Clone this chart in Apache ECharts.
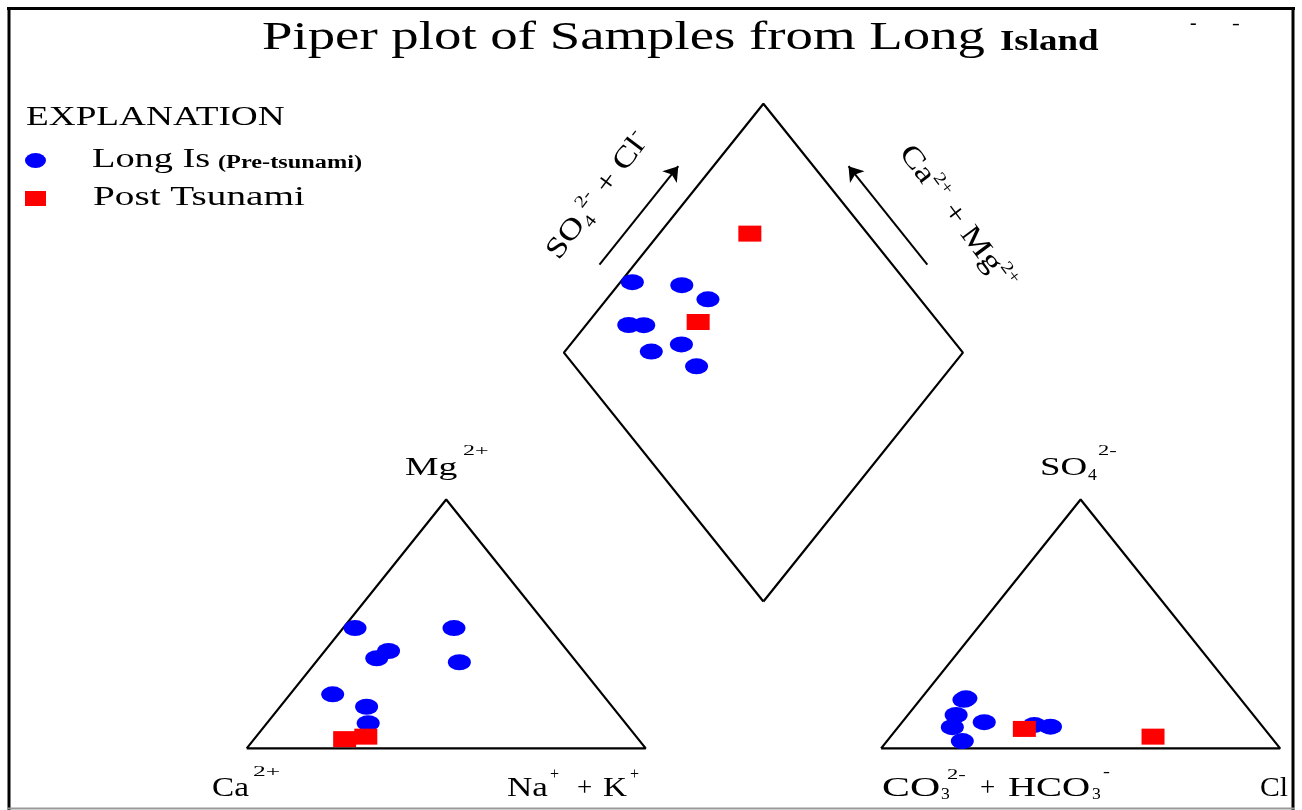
<!DOCTYPE html>
<html>
<head>
<meta charset="utf-8">
<script src="https://cdn.jsdelivr.net/npm/echarts@6.0.0/dist/echarts.min.js"></script>
<style>html,body{margin:0;padding:0;background:#fff}#chart{width:1302px;height:810px}</style>
</head>
<body>
<div id="chart"></div>
<script>
// ---------------- data (percent of meq/L) ----------------
const seriesNames = ['Long Is (Pre-tsunami)', 'Post Tsunami'];

// Pre-tsunami samples (Long Island)
const preCa   = [48.7, 44.9, 64.5, 67.6, 49.3, 61.6, 23.9, 29.4];
const preMg   = [48.3, 39.1, 10.1, 21.7, 36.2, 16.7, 48.3, 34.6];
const preNaK  = [ 3.0, 16.0, 25.4, 10.7, 14.5, 21.7, 27.8, 36.0];
const preHCO3 = [68.7, 56.9, 53.2, 78.2, 74.5, 77.9, 68.9, 69.5];
const preSO4  = [20.1,  9.4,  8.7,  2.9, 13.4,  8.5, 10.5, 19.5];
const preCl   = [11.2, 33.7, 38.1, 18.9, 12.1, 13.6, 20.6, 11.0];

// Post-tsunami samples
const postCa   = [73.6, 67.8];
const postMg   = [ 3.7,  4.7];
const postNaK  = [22.7, 27.5];
const postHCO3 = [29.5, 60.2];
const postSO4  = [ 4.7,  7.8];
const postCl   = [65.8, 32.0];

// ---------------- Piper geometry (diagram units: triangle side = 1) ----------------
const GAP = 0.59;                 // gap between the two triangles
const H = Math.sqrt(3) / 2;       // triangle height
const Y0 = GAP * H;               // height of diamond's lower vertex
const XC = 1 + GAP / 2;           // diamond centre x

function cationXY(ca, mg, nak) {
  const t = ca + mg + nak, m = mg / t, n = nak / t;
  return [n + m / 2, m * H];
}
function anionXY(hco3, so4, cl) {
  const t = hco3 + so4 + cl, s = so4 / t, l = cl / t;
  return [1 + GAP + l + s / 2, s * H];
}
function diamondXY(ca, mg, nak, hco3, so4, cl) {
  const p = (ca + mg) / (ca + mg + nak);
  const q = (so4 + cl) / (hco3 + so4 + cl);
  return [XC + 0.5 * (q - p), Y0 + H * (p + q)];
}
function buildPoints(ca, mg, nak, hco3, so4, cl) {
  const pts = [];
  for (let i = 0; i < ca.length; i++) {
    pts.push(cationXY(ca[i], mg[i], nak[i]));
    pts.push(anionXY(hco3[i], so4[i], cl[i]));
    pts.push(diamondXY(ca[i], mg[i], nak[i], hco3[i], so4[i], cl[i]));
  }
  return pts;
}
const prePoints = buildPoints(preCa, preMg, preNaK, preHCO3, preSO4, preCl);
const postPoints = buildPoints(postCa, postMg, postNaK, postHCO3, postSO4, postCl);

const leftTri = [[0, 0], [1, 0], [0.5, H], [0, 0]];
const rightTri = [[1 + GAP, 0], [2 + GAP, 0], [1.5 + GAP, H], [1 + GAP, 0]];
const diamond = [[XC, Y0], [XC + 0.5, Y0 + H], [XC, Y0 + 2 * H], [XC - 0.5, Y0 + H], [XC, Y0]];

// arrows parallel to the diamond's upper edges
const A_T1 = 0.31, A_T2 = 0.705, A_OFF = 0.076;
function edgePoint(base, dir, nrm, t) {
  return [base[0] + dir[0] * t + nrm[0] * A_OFF, base[1] + dir[1] * t + nrm[1] * A_OFF];
}
const Lv = [XC - 0.5, Y0 + H], Rv = [XC + 0.5, Y0 + H];
const arrows = [
  { coords: [edgePoint(Lv, [0.5, H], [-H, 0.5], A_T1), edgePoint(Lv, [0.5, H], [-H, 0.5], A_T2)] },
  { coords: [edgePoint(Rv, [-0.5, H], [H, 0.5], A_T1), edgePoint(Rv, [-0.5, H], [H, 0.5], A_T2)] }
];

// ---------------- text helpers ----------------
const FONT = 'Liberation Serif';
function txt(s, x, baseY, fs, sx, weight) {
  return { type: 'text', x: x, y: baseY - 0.34 * fs, scaleX: sx || 1, silent: true, z: 10,
    style: { text: s, fontFamily: FONT, fontSize: fs, fontWeight: weight || 'normal', fill: '#000',
      textAlign: 'left', textVerticalAlign: 'middle' } };
}
function mid(s, x, cy, fs, sx, weight) {
  return { type: 'text', x: x, y: cy, scaleX: sx || 1, silent: true, z: 10,
    style: { text: s, fontFamily: FONT, fontSize: fs, fontWeight: weight || 'normal', fill: '#000',
      textAlign: 'left', textVerticalAlign: 'middle' } };
}
const richSS = {
  sub: { fontFamily: FONT, fontSize: 17, verticalAlign: 'bottom', lineHeight: 17, fill: '#000' },
  sup: { fontFamily: FONT, fontSize: 17, verticalAlign: 'top', lineHeight: 17, fill: '#000' }
};
function rot(s, x, y, angle, sx) {
  return { type: 'text', x: x, y: y, rotation: angle, scaleX: sx, silent: true, z: 10,
    style: { text: s, fontFamily: FONT, fontSize: 29, lineHeight: 36, fill: '#000',
      textAlign: 'center', textVerticalAlign: 'middle', rich: richSS } };
}
function hline(x1, y1, x2, y2, w, c) {
  return { type: 'line', silent: true, z: 20, shape: { x1, y1, x2, y2 }, style: { stroke: c, lineWidth: w } };
}

const ELLIPSE = 'path://M0,8A11,8,0,1,1,22,8A11,8,0,1,1,0,8Z';

const chart = echarts.init(document.getElementById('chart'), null, { renderer: 'canvas' });
const frameStyle = { type: 'line', showSymbol: false, symbol: 'none', silent: true, clip: false, z: 1,
  lineStyle: { color: '#000', width: 2.2 }, animation: false };

chart.setOption({
  backgroundColor: '#ffffff',
  animation: false,
  grid: { left: 246.7, top: 103.7, width: (2 + GAP) * 399, height: (Y0 + 2 * H) * 287.4 },
  xAxis: { type: 'value', min: 0, max: 2 + GAP, show: false },
  yAxis: { type: 'value', min: 0, max: Y0 + 2 * H, show: false },
  legend: {
    data: [{ name: seriesNames[0], icon: ELLIPSE }, { name: seriesNames[1], icon: 'rect' }],
    orient: 'vertical', left: 20, top: 148, padding: 5,
    itemWidth: 21, itemHeight: 15, itemGap: 23, symbolKeepAspect: false,
    formatter: function () { return ''; },
    textStyle: { fontSize: 8 }, selectedMode: false
  },
  series: [
    Object.assign({ name: 'frame-cation', data: leftTri }, frameStyle),
    Object.assign({ name: 'frame-anion', data: rightTri }, frameStyle),
    Object.assign({ name: 'frame-diamond', data: diamond }, frameStyle),
    {
      name: 'arrows', type: 'lines', coordinateSystem: 'cartesian2d', data: arrows, silent: true,
      symbol: ['none', 'arrow'], symbolSize: 14, z: 2,
      lineStyle: { color: '#000', width: 2, opacity: 1, curveness: 0 }
    },
    {
      name: seriesNames[0], type: 'scatter', data: prePoints, symbol: ELLIPSE, symbolSize: [23, 16],
      itemStyle: { color: '#0000ff', opacity: 1 }, clip: false, z: 3
    },
    {
      name: seriesNames[1], type: 'scatter', data: postPoints, symbol: 'rect', symbolSize: [23, 16],
      itemStyle: { color: '#ff0000', opacity: 1 }, clip: false, z: 4
    }
  ],
  graphic: [
    hline(7, 8.5, 1295, 8.5, 3, '#000'),
    hline(9, 7, 9, 810, 3, '#000'),
    hline(1293, 7, 1293, 810, 3, '#000'),
    hline(7, 808.5, 1295, 808.5, 2, '#999'),
    txt('Piper plot of Samples from Long', 262, 52, 40, 1.37),
    txt('Island', 1000, 52.7, 30, 1.23, 'bold'),
    mid('-', 1190, 24, 18, 1.1, 'bold'),
    mid('-', 1232, 24, 18, 1.3),
    txt('EXPLANATION', 26, 127.3, 28, 1.33),
    txt('Long Is', 92, 169, 28, 1.37),
    txt('(Pre-tsunami)', 218, 169, 18, 1.35, 'bold'),
    txt('Post Tsunami', 93, 206.7, 28, 1.4),
    // cation triangle
    txt('Mg', 405, 476.7, 26, 1.45),
    mid('2+', 463, 451, 15, 1.6),
    txt('Ca', 212, 798, 27, 1.23),
    mid('2+', 253, 772.5, 15, 1.7),
    txt('Na', 507, 798, 27, 1.3),
    mid('+', 550, 775, 16, 1),
    txt('+', 577, 798, 27, 1),
    txt('K', 603, 798, 27, 1.23),
    mid('+', 630, 775, 16, 1),
    // anion triangle
    txt('SO', 1040, 476.7, 26, 1.42),
    mid('4', 1088, 476, 16, 1.1),
    mid('2-', 1098, 451, 15, 1.5),
    txt('CO', 882, 798, 27, 1.55),
    mid('3', 941, 795, 16, 1.1),
    mid('2-', 947, 775, 15, 1.5),
    txt('+', 980, 798, 27, 1),
    txt('HCO', 1008, 798, 27, 1.44),
    mid('3', 1092, 795, 16, 1.1),
    mid('-', 1103, 773, 16, 1.3),
    txt('Cl', 1260, 798, 27, 1.1),
    // diamond labels
    rot('SO{sub|4}{sup|2-} + Cl{sup|-}', 598, 196, 0.925, 1.22),
    rot('Ca{sup|2+} + Mg{sup|2+}', 957, 218, -0.925, 1.25)
  ]
});
</script>
</body>
</html>
